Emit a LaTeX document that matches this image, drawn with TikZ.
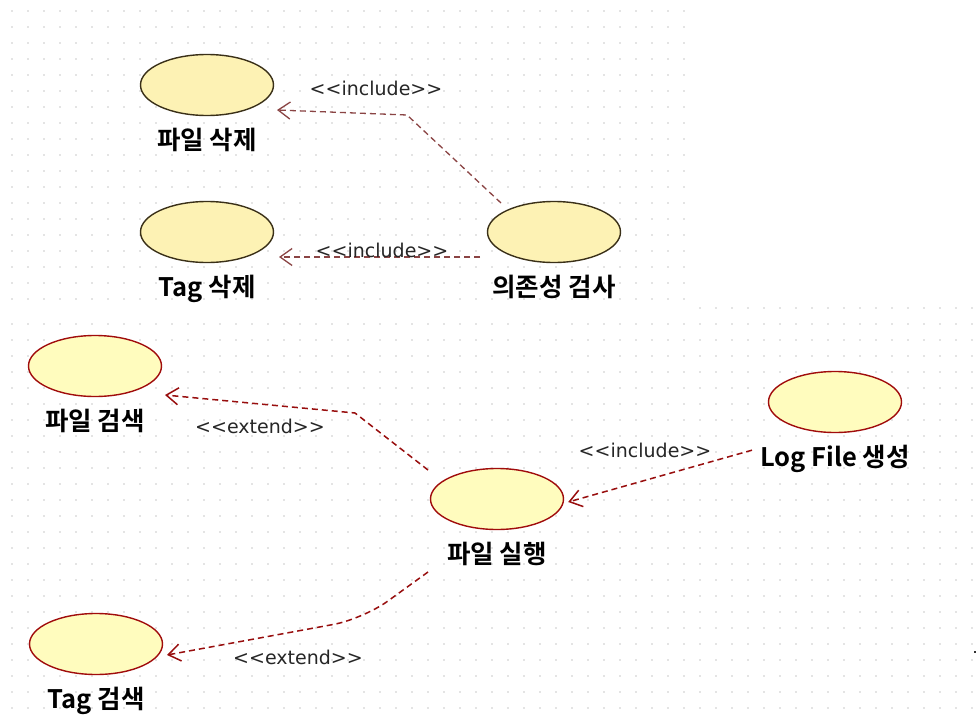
\documentclass[tikz,border=0pt]{standalone}
\usepackage{fontspec}
\setmainfont{DejaVu Sans}[Ligatures=TeXOff]
\newfontfamily\hangul{Noto Sans CJK KR Bold}
\usetikzlibrary{positioning,shapes.geometric,arrows.meta,calc}

\definecolor{ucfill}{HTML}{FFFCBE}
\definecolor{ucfilltop}{HTML}{FDF2B4}
\definecolor{ucline}{HTML}{A00C0C}
\definecolor{uclinetop}{HTML}{3A3018}
\definecolor{depline}{HTML}{980E0E}
\definecolor{deplinetop}{HTML}{8A4444}
\definecolor{griddot}{HTML}{CACACA}

\begin{document}
\begin{tikzpicture}[x=1pt,y=-1pt,
    usecase/.style={ellipse,draw=ucline,fill=ucfill,line width=1.4pt,
        minimum width=133pt,minimum height=61pt,inner sep=0pt},
    usecasetop/.style={usecase,draw=uclinetop,fill=ucfilltop},
    ucname/.style={font=\hangul\fontsize{25.5}{28}\selectfont,inner sep=0pt},
    stereo/.style={font=\fontsize{19}{21}\selectfont,text=black!85,inner sep=0pt},
    depend/.style={draw=depline,line width=1.5pt,dash pattern=on 6pt off 4pt,
        -{Straight Barb[length=12pt,width=17pt]}},
    dependtop/.style={depend,draw=deplinetop,line width=1.3pt},
    node distance=12pt]

    \fill[white] (0,0) rectangle (977,725);
    \useasboundingbox (0,0) rectangle (977,725);

    % dotted grids of the two panels
    \foreach \gx in {12,28,...,684}
        \foreach \gy in {11,27,...,299}
            \fill[griddot] (\gx,\gy) circle (0.9pt);
    \foreach \gx in {12,28,...,972}
        \foreach \gy in {324,340,...,708}
            \fill[griddot] (\gx,\gy) circle (0.9pt);
    \foreach \gx in {700,716,...,972}
        \fill[griddot] (\gx,308) circle (0.9pt);
    \fill[black!80] (974,651) rectangle (976,653);

    % upper panel
    \node[usecasetop] (fdel) at (207,85) {};
    \node[ucname,below=of fdel] (fdelname) {파일 삭제};
    \node[usecasetop] (tdel) at (207,232) {};
    \node[ucname,below=of tdel] (tdelname) {Tag 삭제};
    \node[usecasetop] (dep) at (554,232) {};
    \node[ucname,below=of dep] (depname) {의존성 검사};

    \coordinate (bendA) at (407,115);
    \draw[dependtop] ($(dep)+(-53,-29)$) -- (bendA) -- ($(fdel)+(70,25)$);
    \draw[dependtop] ($(dep)+(-74,25)$) -- ($(tdel)+(72,25)$);
    \node[stereo] (incA) at (376,88) {<<include>>};
    \node[stereo] (incB) at (382,250) {<<include>>};

    % lower panel
    \node[usecase] (fsrch) at (95,366) {};
    \node[ucname,below=of fsrch] (fsrchname) {파일 검색};
    \node[usecase] (tsrch) at (96,644) {};
    \node[ucname,below=of tsrch] (tsrchname) {Tag 검색};
    \node[usecase] (fexec) at (497,499) {};
    \node[ucname,below=of fexec] (fexecname) {파일 실행};
    \node[usecase] (logf) at (835,402) {};
    \node[ucname,below=of logf] (logfname) {Log File 생성};

    \coordinate (bendB) at (355,413);
    \coordinate (bendC) at (363,619);
    \draw[depend] ($(fexec)+(-69,-29)$) -- (bendB) -- ($(fsrch)+(70,29)$);
    \draw[depend,rounded corners=30pt] ($(fexec)+(-69,73)$) -- (bendC) -- ($(tsrch)+(71,11)$);
    \draw[depend] ($(logfname.west)+(-8,-9)$) -- ($(fexec.east)+(4,3)$);
    \node[stereo] (extA) at (260,426) {<<extend>>};
    \node[stereo] (extB) at (298,657) {<<extend>>};
    \node[stereo] (incC) at (645,450) {<<include>>};

\end{tikzpicture}
\end{document}
